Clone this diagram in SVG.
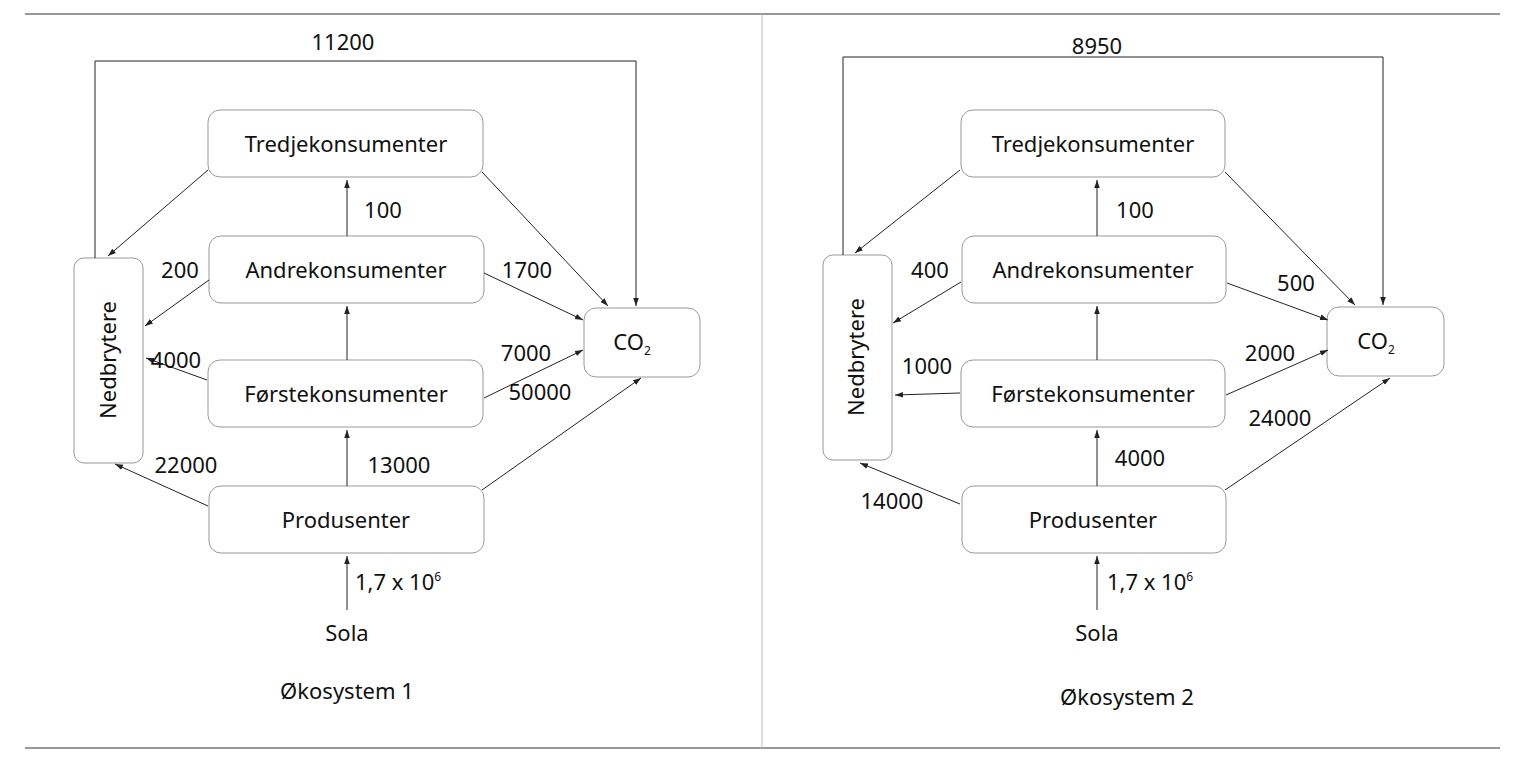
<svg xmlns="http://www.w3.org/2000/svg" width="1524" height="762" viewBox="0 0 1524 762">
<defs><marker id="a" viewBox="0 0 10 10" refX="10" refY="5" markerWidth="8" markerHeight="8" orient="auto"><path d="M0,1.5 L10,5 L0,8.5 Z" fill="#222"/></marker></defs>
<style>
.b{fill:#fff;stroke:#999;stroke-width:1}
.t{font-family:"Noto Sans",sans-serif;font-size:22px;fill:#111;text-anchor:middle}
.c line,.c path{stroke:#222;stroke-width:1;fill:none;marker-end:url(#a)}
</style>
<rect width="1524" height="762" fill="#fff"/>
<line x1="25" y1="14" x2="1500" y2="14" stroke="#333"/>
<line x1="25" y1="748" x2="1500" y2="748" stroke="#333"/>
<line x1="762" y1="14" x2="762" y2="748" stroke="#bbb"/>
<g id="left">
<g id="l-tredje"><rect class="b" x="208" y="110" width="275" height="67" rx="12"/><text class="t" x="346" y="152">Tredjekonsumenter</text></g>
<g id="l-andre"><rect class="b" x="209" y="236" width="275" height="67" rx="12"/><text class="t" x="346" y="278">Andrekonsumenter</text></g>
<g id="l-forste"><rect class="b" x="208" y="360" width="275" height="67" rx="12"/><text class="t" x="346" y="402">Førstekonsumenter</text></g>
<g id="l-prod"><rect class="b" x="209" y="486" width="275" height="67" rx="12"/><text class="t" x="346" y="528">Produsenter</text></g>
<g id="l-ned"><rect class="b" x="74" y="258" width="69" height="205" rx="10"/><text class="t" transform="translate(116,360) rotate(-90)">Nedbrytere</text></g>
<g id="l-co2"><rect class="b" x="584" y="308" width="116" height="69" rx="12"/><text class="t" x="632" y="350">CO<tspan font-size="12" dy="5">2</tspan></text></g>
<g id="l-sola"><text class="t" x="347" y="641">Sola</text></g>
<text class="t" x="347" y="699">Økosystem 1</text>
<g class="c">
<path d="M95,258 V61 H636 V306"/>
<line x1="208" y1="170" x2="108" y2="256"/>
<line x1="209" y1="280" x2="145" y2="326"/>
<line x1="207" y1="380" x2="146" y2="358"/>
<line x1="208" y1="506" x2="115" y2="464"/>
<line x1="347" y1="236" x2="347" y2="180"/>
<line x1="347" y1="360" x2="347" y2="306"/>
<line x1="347" y1="486" x2="347" y2="430"/>
<line x1="347" y1="610" x2="347" y2="556"/>
<line x1="482" y1="172" x2="608" y2="306"/>
<line x1="484" y1="273" x2="583" y2="320"/>
<line x1="484" y1="398" x2="583" y2="350"/>
<line x1="482" y1="490" x2="641" y2="378"/>
</g>
<g class="t">
<text x="343" y="50">11200</text><text x="383" y="218">100</text><text x="180" y="278">200</text>
<text x="527" y="278">1700</text><text x="176" y="368">4000</text><text x="526" y="361">7000</text>
<text x="540" y="400">50000</text><text x="186" y="473">22000</text><text x="399" y="473">13000</text>
<text x="398" y="590">1,7 x 10<tspan font-size="12" dy="-9">6</tspan></text>
</g>
</g>
<g id="right">
<g id="r-tredje"><rect class="b" x="961" y="110" width="264" height="67" rx="12"/><text class="t" x="1093" y="152">Tredjekonsumenter</text></g>
<g id="r-andre"><rect class="b" x="962" y="236" width="264" height="67" rx="12"/><text class="t" x="1093" y="278">Andrekonsumenter</text></g>
<g id="r-forste"><rect class="b" x="961" y="360" width="264" height="67" rx="12"/><text class="t" x="1093" y="402">Førstekonsumenter</text></g>
<g id="r-prod"><rect class="b" x="962" y="486" width="264" height="67" rx="12"/><text class="t" x="1093" y="528">Produsenter</text></g>
<g id="r-ned"><rect class="b" x="823" y="255" width="69" height="205" rx="10"/><text class="t" transform="translate(864,357) rotate(-90)">Nedbrytere</text></g>
<g id="r-co2"><rect class="b" x="1327" y="307" width="117" height="69" rx="12"/><text class="t" x="1376" y="349">CO<tspan font-size="12" dy="5">2</tspan></text></g>
<g id="r-sola"><text class="t" x="1097" y="641">Sola</text></g>
<text class="t" x="1127" y="705">Økosystem 2</text>
<g class="c">
<path d="M843,255 V57 H1383 V305"/>
<line x1="960" y1="170" x2="855" y2="253"/>
<line x1="961" y1="282" x2="893" y2="323"/>
<line x1="960" y1="393" x2="895" y2="395"/>
<line x1="960" y1="504" x2="860" y2="463"/>
<line x1="1097" y1="236" x2="1097" y2="180"/>
<line x1="1097" y1="360" x2="1097" y2="306"/>
<line x1="1097" y1="486" x2="1097" y2="430"/>
<line x1="1097" y1="610" x2="1097" y2="556"/>
<line x1="1225" y1="172" x2="1355" y2="305"/>
<line x1="1227" y1="283" x2="1328" y2="320"/>
<line x1="1226" y1="395" x2="1328" y2="350"/>
<line x1="1225" y1="490" x2="1390" y2="378"/>
</g>
<g class="t">
<text x="1097" y="54">8950</text><text x="1135" y="218">100</text><text x="930" y="278">400</text>
<text x="1296" y="291">500</text><text x="927" y="374">1000</text><text x="1270" y="361">2000</text>
<text x="1280" y="426">24000</text><text x="1140" y="466">4000</text><text x="892" y="509">14000</text>
<text x="1150" y="590">1,7 x 10<tspan font-size="12" dy="-9">6</tspan></text>
</g>
</g>
</svg>
